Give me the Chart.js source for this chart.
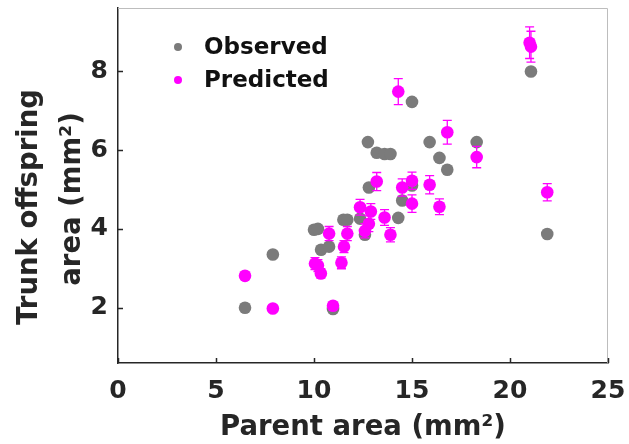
<!DOCTYPE html>
<html>
<head>
<meta charset="utf-8">
<script src="https://cdn.jsdelivr.net/npm/chart.js@4.4.0/dist/chart.umd.min.js"></script>
<style>
  html, body { margin: 0; padding: 0; background: #fff; }
  #wrap { width: 629px; height: 444px; }
</style>
</head>
<body>
<div id="wrap"><canvas id="plot" width="629" height="444"></canvas></div>
<script>
// parent area (mm2) vs trunk offspring area (mm2)
const obsX = [6.48, 7.9, 10.0, 10.2, 10.36, 10.77, 10.97, 11.5, 11.7, 12.35, 12.6, 12.75, 12.8, 13.2, 13.6, 13.9, 14.3, 14.5, 15.0, 15.0, 15.9, 16.4, 16.8, 18.3, 21.07, 21.9];
const obsY = [2.0, 3.35, 3.98, 4.0, 3.47, 3.55, 1.97, 4.23, 4.23, 4.26, 3.85, 6.2, 5.05, 5.93, 5.9, 5.9, 4.28, 4.72, 7.22, 5.1, 6.2, 5.8, 5.5, 6.2, 7.99, 3.87];

const predX = [6.48, 7.9, 10.05, 10.2, 10.35, 10.77, 10.97, 11.4, 11.53, 11.7, 12.35, 12.6, 12.8, 12.9, 13.2, 13.6, 13.9, 14.3, 14.5, 15.0, 15.0, 15.9, 16.4, 16.8, 18.3, 21.0, 21.07, 21.9];
const predY = [2.81, 1.98, 3.12, 3.07, 2.87, 3.88, 2.05, 3.14, 3.55, 3.88, 4.55, 3.95, 4.13, 4.44, 5.2, 4.29, 3.85, 7.48, 5.05, 5.22, 4.64, 5.12, 4.56, 6.45, 5.82, 8.72, 8.62, 4.93];
const predErr = [0.08, 0.05, 0.15, 0.15, 0.12, 0.18, 0.08, 0.15, 0.15, 0.18, 0.2, 0.18, 0.2, 0.2, 0.23, 0.2, 0.18, 0.33, 0.22, 0.22, 0.22, 0.23, 0.2, 0.3, 0.27, 0.4, 0.39, 0.22];

const xTicks = [0, 5, 10, 15, 20, 25];
const yTicks = [2, 4, 6, 8];
const seriesNames = ["Observed", "Predicted"];
const xTitle = "Parent area (mm²)";
const yTitle = ["Trunk offspring", "area (mm²)"];

const GRAY = "#7b7b7b";
const MAGENTA = "#ff00ff";
const INK = "#262626";
const FONT = "'DejaVu Sans', sans-serif";

const toPoints = (xs, ys) => xs.map((x, i) => ({ x: x, y: ys[i] }));

// error bars drawn just before the predicted points
const errorBars = {
  id: "errorBars",
  beforeDatasetDraw(chart, args) {
    if (args.index !== 1) return;
    const { ctx, scales } = chart;
    ctx.save();
    ctx.strokeStyle = MAGENTA;
    ctx.lineWidth = 1.3;
    predX.forEach((x, i) => {
      const px = scales.x.getPixelForValue(x);
      const top = scales.y.getPixelForValue(predY[i] + predErr[i]);
      const bot = scales.y.getPixelForValue(predY[i] - predErr[i]);
      ctx.beginPath();
      ctx.moveTo(px, top); ctx.lineTo(px, bot);
      ctx.moveTo(px - 4.5, top); ctx.lineTo(px + 4.5, top);
      ctx.moveTo(px - 4.5, bot); ctx.lineTo(px + 4.5, bot);
      ctx.stroke();
    });
    ctx.restore();
  }
};

// inward tick marks, light box, y title and in-plot legend
const frame = {
  id: "frame",
  afterDraw(chart) {
    const { ctx, chartArea: a, scales } = chart;
    ctx.save();
    ctx.strokeStyle = "#bdbdbd";
    ctx.lineWidth = 1;
    ctx.beginPath();
    ctx.moveTo(a.left, a.top + 0.5); ctx.lineTo(a.right - 0.5, a.top + 0.5); ctx.lineTo(a.right - 0.5, a.bottom);
    ctx.stroke();

    ctx.strokeStyle = INK;
    ctx.lineWidth = 1.5;
    ctx.beginPath();
    xTicks.forEach(v => {
      const px = Math.round(scales.x.getPixelForValue(v)) + 0.5;
      ctx.moveTo(px, a.bottom); ctx.lineTo(px, a.bottom - 5);
    });
    yTicks.forEach(v => {
      const py = Math.round(scales.y.getPixelForValue(v)) + 0.5;
      ctx.moveTo(a.left, py); ctx.lineTo(a.left + 5, py);
    });
    ctx.stroke();

    // two-line y title, sits a little below the axis middle
    ctx.fillStyle = INK;
    ctx.font = "bold 27.5px " + FONT;
    ctx.textAlign = "center";
    ctx.textBaseline = "alphabetic";
    [[37, 207], [80, 199]].forEach(([bx, cy], i) => {
      ctx.save();
      ctx.translate(bx, cy);
      ctx.rotate(-Math.PI / 2);
      ctx.fillText(yTitle[i], 0, 0);
      ctx.restore();
    });

    const colors = [GRAY, MAGENTA];
    ctx.font = "bold 23px " + FONT;
    ctx.textBaseline = "middle";
    ctx.textAlign = "left";
    seriesNames.forEach((name, i) => {
      const y = 47 + i * 33;
      ctx.fillStyle = colors[i];
      ctx.beginPath();
      ctx.arc(178, y, 4, 0, Math.PI * 2);
      ctx.fill();
      ctx.fillStyle = "#111";
      ctx.fillText(name, 204, y + 1);
    });
    ctx.restore();
  }
};

new Chart(document.getElementById("plot").getContext("2d"), {
  type: "scatter",
  data: {
    datasets: [
      {
        label: seriesNames[0],
        data: toPoints(obsX, obsY),
        backgroundColor: GRAY,
        borderWidth: 0,
        pointRadius: 6.3,
        order: 2
      },
      {
        label: seriesNames[1],
        data: toPoints(predX, predY),
        backgroundColor: MAGENTA,
        borderWidth: 0,
        pointRadius: 6.3,
        order: 1
      }
    ]
  },
  options: {
    responsive: false,
    animation: false,
    layout: { padding: { top: 8, right: 21, left: 0, bottom: 0 } },
    plugins: { legend: { display: false }, tooltip: { enabled: false } },
    scales: {
      x: {
        type: "linear",
        min: 0,
        max: 25,
        afterBuildTicks: s => { s.ticks = xTicks.map(v => ({ value: v })); },
        afterFit: s => { s.height = 81; s.paddingLeft = 0; s.paddingRight = 0; },
        grid: { display: false, drawTicks: false, tickLength: 0 },
        border: { display: true, color: INK, width: 1.5 },
        ticks: { color: INK, padding: 13, maxRotation: 0, font: { family: FONT, size: 25, weight: "bold" } },
        title: {
          display: true,
          text: xTitle,
          color: INK,
          padding: { top: 0, bottom: 0 },
          font: { family: FONT, size: 27.5, weight: "bold" }
        }
      },
      y: {
        type: "linear",
        min: 0.6,
        max: 9.6,
        afterBuildTicks: s => { s.ticks = yTicks.map(v => ({ value: v })); },
        afterFit: s => { s.width = 118; s.paddingTop = 0; s.paddingBottom = 0; },
        grid: { display: false, drawTicks: false, tickLength: 0 },
        border: { display: true, color: INK, width: 1.5 },
        ticks: { color: INK, padding: 10, font: { family: FONT, size: 25, weight: "bold" } },
        title: { display: false }
      }
    }
  },
  plugins: [errorBars, frame]
});
</script>
</body>
</html>
